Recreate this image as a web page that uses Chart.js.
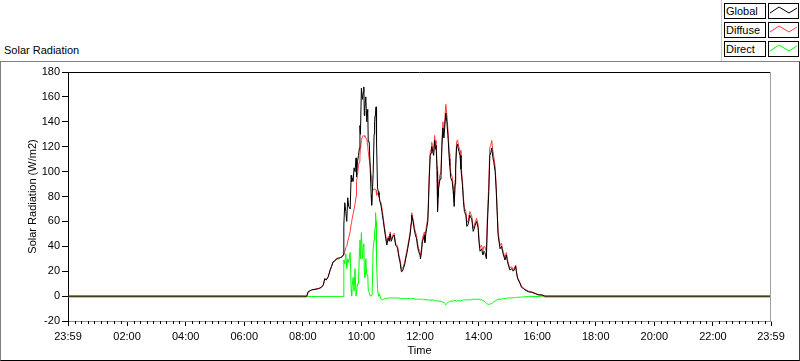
<!DOCTYPE html>
<html>
<head>
<meta charset="utf-8">
<script src="https://cdn.jsdelivr.net/npm/chart.js@4.4.0/dist/chart.umd.min.js"></script>
<style>
  body { margin: 0; background: #fff; font: 11px "Liberation Sans", Arial, sans-serif; color: #000; }
  #wrap { position: relative; width: 800px; height: 361px; overflow: hidden; }
  #frame { position: absolute; left: 0; top: 61px; width: 800px; height: 300px; box-sizing: border-box;
           border-top: 1px solid #808080; border-left: 1px solid #808080;
           border-right: 1px solid #404040; border-bottom: 1px solid #000; }
  #title { position: absolute; left: 4px; top: 44px; }
  #legend { position: absolute; left: 721px; top: 0; width: 79px; height: 61px; border-left: 1px solid #c8c8c8; box-sizing: border-box; }
  .lbl { position: absolute; left: 2px; width: 42px; height: 16px; border: 1px solid #000; box-sizing: border-box; padding-left: 1px; line-height: 14px; }
  .sw { position: absolute; left: 46px; width: 31px; height: 16px; border: 1px solid #000; box-sizing: border-box; }
  .sw svg { position: absolute; left: 0; top: 0; }
  canvas { position: absolute; left: 0; top: 0; }
</style>
</head>
<body>
<div id="wrap">
  <div id="frame"></div>
  <div id="title">Solar Radiation</div>
  <div id="legend"></div>
  <canvas id="solar" width="800" height="361"></canvas>
</div>
<script>
// time of day in minutes (-1 = 23:59 of the day before)
const minutes = [
  -1, 480, 488, 491, 498, 505, 512, 518, 522, 525,
  528, 532, 536, 539, 542, 545, 549, 553, 557, 560,
  563, 564, 566, 568, 570, 572, 574, 577, 579, 580,
  581, 583, 585, 587, 589, 590, 592, 594, 596, 597,
  598, 600, 602, 604, 605, 606, 607, 609, 611, 613,
  614, 616, 618, 620, 621, 622, 624, 626, 627, 628,
  629, 630, 631, 633, 635, 636, 638, 640, 642, 643,
  645, 647, 650, 652, 655, 657, 659, 661, 663, 665,
  667, 670, 672, 674, 677, 679, 682, 684, 686, 689,
  691, 693, 695, 698, 700, 702, 703, 705, 706, 708,
  710, 713, 715, 717, 720, 721, 723, 725, 727, 729,
  730, 732, 734, 736, 737, 739, 741, 743, 744, 746,
  748, 750, 752, 753, 755, 756, 757, 758, 761, 763,
  765, 767, 769, 771, 773, 775, 777, 778, 780, 781,
  783, 786, 788, 789, 790, 792, 793, 795, 797, 798,
  800, 802, 804, 807, 809, 811, 814, 816, 819, 822,
  824, 826, 829, 831, 833, 836, 839, 841, 843, 846,
  849, 851, 853, 856, 858, 861, 863, 865, 867, 869,
  871, 874, 876, 878, 880, 884, 887, 889, 891, 894,
  897, 899, 901, 904, 908, 911, 913, 916, 918, 920,
  925, 928, 932, 935, 942, 949, 956, 962, 970, 976,
  1439
];

const globalRad = [
  0, 0, 0, 3.5, 5, 5.5, 6, 7, 9, 14,
  13, 15.5, 21, 24, 27.5, 28, 30, 30, 31, 31.5,
  33, 57, 75, 68, 60, 79, 72, 70, 97, 92,
  95, 92, 103, 100, 111, 96, 108, 113, 119, 137,
  130, 167, 158, 164, 168, 145, 151, 160, 140, 150,
  124, 124, 103, 81, 73, 80, 97, 130, 140, 145,
  148, 152, 124, 87, 83, 81, 76, 73, 68, 65,
  60, 54, 46, 41, 46.5, 44, 50, 44, 46, 48,
  49, 41, 40, 38.5, 31, 27.5, 19.5, 20, 22, 26,
  30.5, 34, 38.5, 45, 50, 58, 65, 61, 60, 54,
  50, 46, 40, 36, 33, 30, 35, 44, 46, 49,
  43, 50, 55, 60, 70, 95, 113, 115, 120, 116,
  113, 125, 118, 121, 100, 68, 80, 86, 94, 97,
  121, 135, 127, 137.5, 147, 140, 130, 124, 110, 105,
  95, 92, 84, 79, 72, 90, 102, 120, 122, 119,
  116, 113, 102, 89, 76, 68, 65, 56, 58, 65,
  63, 62, 52, 54, 57, 60, 55, 43, 36, 38,
  33, 36, 35, 30, 57, 84, 113, 115, 119, 112,
  108, 100, 86, 68, 49, 38, 40, 36, 33, 29,
  33, 28, 25, 21, 22, 20, 21, 24, 18, 14,
  10, 7, 6, 5, 3.5, 3, 2, 1, 1, 0,
  0
];

const diffuseRad = [
  -0.7, -0.7, -0.7, 3.5, 5, 5.5, 6, 7, 9, 14,
  13, 15.5, 21, 24, 27.5, 28, 30, 31, 31, 31.5,
  33, 33, 36, 39, 40, 44, 47, 52, 58, 60,
  62, 66, 70, 74, 80, 92, 97, 105, 108, 113,
  118, 125, 128, 129, 129, 128, 129, 127, 126, 120,
  116, 110, 105, 97, 92, 88, 85, 86, 86, 86,
  86, 85, 81, 82, 84, 80, 76, 75, 71, 68,
  62.5, 56, 48, 43, 48, 45.5, 51.5, 45.5, 47.5, 49.5,
  50.5, 42.5, 41.5, 40, 32.5, 29.5, 21.5, 22, 24, 28,
  32.5, 36, 40.5, 47, 52, 60, 67, 63, 62, 56,
  52.5, 48.5, 42.5, 38.5, 35.5, 32.5, 37.5, 46.5, 49, 51.5,
  46, 53, 58, 63, 73, 98, 116.5, 118, 123.5, 119,
  116, 129, 121.5, 125, 104, 72, 84, 90, 98, 101,
  125.5, 140, 132, 143.5, 154, 146, 135, 129, 114.5, 109.5,
  99, 96, 88, 83, 75.5, 93.5, 106, 124, 125.5, 123,
  119.5, 117, 105.5, 92.5, 79, 71, 68, 59, 61, 68,
  66, 64.5, 54.5, 56.5, 59.5, 62.5, 57.5, 45.5, 39, 41,
  36.5, 40, 39.5, 35.5, 63.5, 90.7, 119.5, 121, 125, 117.5,
  112.5, 104, 89.5, 71, 51.5, 40.5, 42.5, 38, 35, 31,
  35, 29.5, 26.5, 22.5, 23.5, 21.2, 22.2, 25, 19, 15,
  10.8, 7.8, 6.6, 5.5, 4, 3.4, 2.3, 1.3, 0.5, -0.7,
  -0.7
];

const directRad = [
  0, 0, -0.3, -0.3, -0.3, -0.3, -0.3, -0.3, -0.3, -0.3,
  -0.3, -0.3, -0.3, -0.3, -0.3, -0.3, -0.3, -0.3, -0.3, -0.3,
  -0.3, 29, 26, 34, 22, 30, 27, 35, 5, 0,
  8, 15, 4, 22, 0, 0, 10, 10, 38, 45,
  30, 51, 30, 41, 42, 20, 15, 30, 17, 17,
  5, 3, 0, 0, 0, 1, 38, 45, 51, 55,
  67, 60, 28, 6, 0, 2, 0, -2, -3, -3,
  -2.5, -2, -2, -2, -1.5, -1.5, -1.5, -1.5, -1.5, -1.5,
  -1.5, -1.5, -1.5, -1.5, -1.5, -2, -2, -2, -2, -2,
  -2, -2, -2, -2, -2, -2, -2, -2, -2, -2,
  -2.5, -2.5, -2.5, -2.5, -2.5, -2.5, -2.5, -2.5, -3, -2.5,
  -3, -3, -3, -3, -3, -3, -3.5, -3, -3.5, -3,
  -3, -4, -3.5, -4, -4, -4, -4, -4, -4, -4,
  -4.5, -5, -5, -6, -7, -6, -5, -5, -4.5, -4.5,
  -4, -4, -4, -4, -3.5, -3.5, -4, -4, -3.5, -4,
  -3.5, -4, -3.5, -3.5, -3, -3, -3, -3, -3, -3,
  -3, -2.5, -2.5, -2.5, -2.5, -2.5, -2.5, -2.5, -3, -3,
  -3.5, -4, -4.5, -5.5, -6.5, -6.7, -6.5, -6, -6, -5.5,
  -4.5, -4, -3.5, -3, -2.5, -2.5, -2.5, -2, -2, -2,
  -2, -1.5, -1.5, -1.5, -1.5, -1.2, -1.2, -1, -1, -1,
  -0.8, -0.8, -0.6, -0.5, -0.5, -0.4, -0.3, -0.3, 0, 0,
  0
];

const seriesNames = ['Global', 'Diffuse', 'Direct'];
const seriesColors = ['#000000', '#ff3c3c', '#00ff00'];

const timeTicks = [-1, 120, 240, 360, 480, 600, 720, 840, 960, 1080, 1200, 1320, 1439];
const timeTickLabels = ['23:59', '02:00', '04:00', '06:00', '08:00', '10:00', '12:00',
                        '14:00', '16:00', '18:00', '20:00', '22:00', '23:59'];

document.addEventListener('DOMContentLoaded', () => {
    // legend boxes on the top right
    const legend = document.getElementById('legend');
    seriesNames.forEach((name, i) => {
        const top = 3 + i * 19;
        legend.insertAdjacentHTML('beforeend',
            `<div class="lbl" style="top:${top}px">${name}</div>` +
            `<div class="sw" style="top:${top}px"><svg width="29" height="14">` +
            `<polyline points="1,9 10,3 20,9 28,4" fill="none" stroke="${seriesColors[i]}" stroke-width="1"/></svg></div>`);
    });

    const toPoints = values => minutes.map((m, i) => ({ x: m, y: values[i] }));

    // top/right plot border and the small ticks between the labelled times
    const plotFrame = {
        id: 'plotFrame',
        afterDraw(chart) {
            const { ctx, chartArea: a } = chart;
            const x = chart.scales.x;
            ctx.save();
            ctx.lineWidth = 1;
            ctx.strokeStyle = '#000';
            ctx.beginPath();
            ctx.moveTo(a.left, a.top + 0.5);
            ctx.lineTo(a.right, a.top + 0.5);
            ctx.stroke();
            ctx.strokeStyle = '#a0a0a0';
            ctx.beginPath();
            ctx.moveTo(a.right - 0.5, a.top);
            ctx.lineTo(a.right - 0.5, a.bottom);
            ctx.stroke();
            ctx.strokeStyle = '#000';
            ctx.beginPath();
            for (let i = 0; i < timeTicks.length - 1; i++) {
                const step = (timeTicks[i + 1] - timeTicks[i]) / 9;
                for (let k = 1; k < 9; k++) {
                    const px = Math.round(x.getPixelForValue(timeTicks[i] + k * step)) + 0.5;
                    ctx.moveTo(px, a.bottom);
                    ctx.lineTo(px, a.bottom + 3);
                }
            }
            ctx.stroke();
            ctx.restore();
        }
    };

    Chart.defaults.font.family = '"Liberation Sans", Arial, sans-serif';
    Chart.defaults.font.size = 11;
    Chart.defaults.color = '#000';

    new Chart(document.getElementById('solar'), {
        type: 'line',
        data: {
            datasets: [globalRad, diffuseRad, directRad].map((vals, i) => ({
                label: seriesNames[i],
                data: toPoints(vals),
                borderColor: seriesColors[i],
                borderWidth: 1,
                pointRadius: 0,
                tension: 0,
                fill: false
            }))
        },
        options: {
            responsive: false,
            animation: false,
            events: [],
            layout: { padding: { left: 0, top: 72, right: 29, bottom: 0 } },
            plugins: {
                legend: { display: false },
                title: { display: false },
                tooltip: { enabled: false }
            },
            scales: {
                x: {
                    type: 'linear',
                    min: -1,
                    max: 1439,
                    afterBuildTicks: scale => {
                        scale.ticks = timeTicks.map(v => ({ value: v }));
                    },
                    afterFit: scale => { scale.height = 40; },
                    ticks: {
                        autoSkip: false,
                        maxRotation: 0,
                        padding: 4,
                        callback: (v, i) => timeTickLabels[i]
                    },
                    grid: { drawOnChartArea: false, tickLength: 5, tickColor: '#000' },
                    border: { color: '#909090' },
                    title: { display: true, text: 'Time', padding: { top: 0, bottom: 3 } }
                },
                y: {
                    min: -20,
                    max: 180,
                    afterFit: scale => { scale.width = 68; },
                    ticks: { stepSize: 20, padding: 2 },
                    grid: { drawOnChartArea: false, tickLength: 6, tickColor: '#000' },
                    border: { color: '#000' },
                    title: { display: true, text: 'Solar Radiation (W/m2)', padding: { top: 26, bottom: 0 } }
                }
            }
        },
        plugins: [plotFrame]
    });
});
</script>
</body>
</html>
